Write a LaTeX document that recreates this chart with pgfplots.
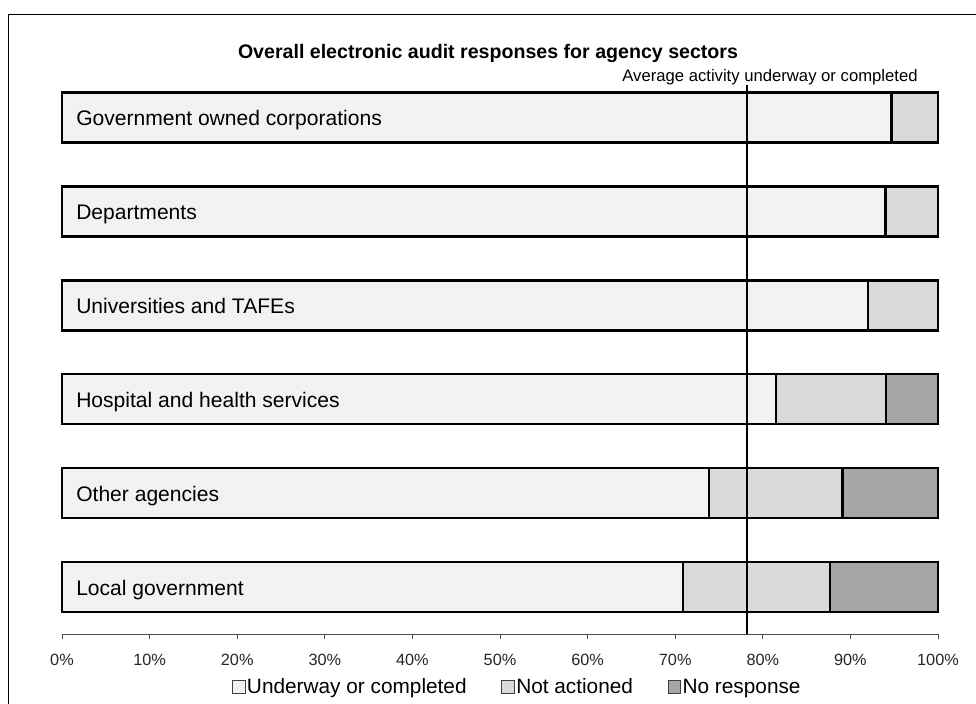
\documentclass[border=0pt]{standalone}
\usepackage{pgfplots}
\pgfplotsset{compat=1.18}
\usepackage{fontspec}
\setmainfont{Liberation Sans}
\newdimen\uu \uu=0.75pt
\definecolor{cU}{HTML}{F2F2F2}
\definecolor{cN}{HTML}{D9D9D9}
\definecolor{cR}{HTML}{A6A6A6}
\tikzset{lbl/.style={anchor=base west, inner sep=0pt, xshift=14\uu, yshift=-8.2\uu, font=\fontsize{15.8}{18}\selectfont}}
\begin{document}
\begin{tikzpicture}
\useasboundingbox (0,0) rectangle (976\uu,704\uu);
\fill[white] (0,0) rectangle (976\uu,704\uu);
\draw[line width=1.5\uu] (8.3\uu,-5\uu) -- (8.3\uu,689.7\uu) -- (980\uu,689.7\uu);
\node[anchor=base, font=\bfseries\fontsize{14.7}{17}\selectfont] at (488\uu,645\uu) {Overall electronic audit responses for agency sectors};
\node[anchor=base, font=\fontsize{12.5}{15}\selectfont] at (770\uu,622.5\uu) {Average activity underway or completed};
\begin{axis}[
  at={(62\uu,69.7\uu)}, anchor=south west, scale only axis,
  width=876\uu, height=563.8\uu,
  xmin=0, xmax=100, ymin=-0.5, ymax=5.5,
  enlargelimits=false,
  xbar stacked, bar width=50\uu,
  axis x line=bottom, axis y line=none,
  x axis line style={-, black!70, line width=1.3\uu},
  xtick={0,10,...,100}, ytick=\empty,
  xtick align=outside, major tick length=5\uu,
  tick style={black!70, line width=1\uu},
  xticklabel={\pgfmathprintnumber[assume math mode=true]{\tick}\%},
  xticklabel style={anchor=base, yshift=-25.7\uu, font=\fontsize{12.2}{14}\selectfont, text=black!85},
  legend style={at={(0.5194,-0.0935)}, anchor=center, draw=none, fill=none,
    font=\fontsize{15.6}{18}\selectfont, inner sep=0pt,
    nodes={inner sep=1.5\uu},
    /tikz/every even column/.append style={column sep=33\uu}},
  legend columns=3, legend cell align=left,
  legend image code/.code={\draw[#1, draw=black!75, line width=1\uu] (0\uu,-6.3\uu) rectangle (12.6\uu,6.3\uu);},
  clip=false,
]
\addplot[fill=cU, draw=black, line width=2.2\uu] coordinates {(70.9,0) (73.9,1) (81.5,2) (92.0,3) (94.0,4) (94.7,5)};
\addplot[fill=cN, draw=black, line width=2.2\uu] coordinates {(16.8,0) (15.2,1) (12.6,2) (8.0,3) (6.0,4) (5.3,5)};
\addplot[fill=cR, draw=black, line width=2.2\uu] coordinates {(12.3,0) (10.9,1) (5.9,2) (0,3) (0,4) (0,5)};
\legend{Underway or completed, Not actioned, No response}
\end{axis}
\begin{axis}[
  at={(62\uu,69.7\uu)}, anchor=south west, scale only axis,
  width=876\uu, height=563.8\uu,
  xmin=0, xmax=100, ymin=-0.5, ymax=5.5,
  hide axis, clip=false,
]
\addplot[black, line width=2.2\uu] coordinates {(78.2,-0.5) (78.2,5.346)};
\node[lbl] at (axis cs:0,5) {Government owned corporations};
\node[lbl] at (axis cs:0,4) {Departments};
\node[lbl] at (axis cs:0,3) {Universities and TAFEs};
\node[lbl] at (axis cs:0,2) {Hospital and health services};
\node[lbl] at (axis cs:0,1) {Other agencies};
\node[lbl] at (axis cs:0,0) {Local government};
\end{axis}
\end{tikzpicture}
\end{document}
